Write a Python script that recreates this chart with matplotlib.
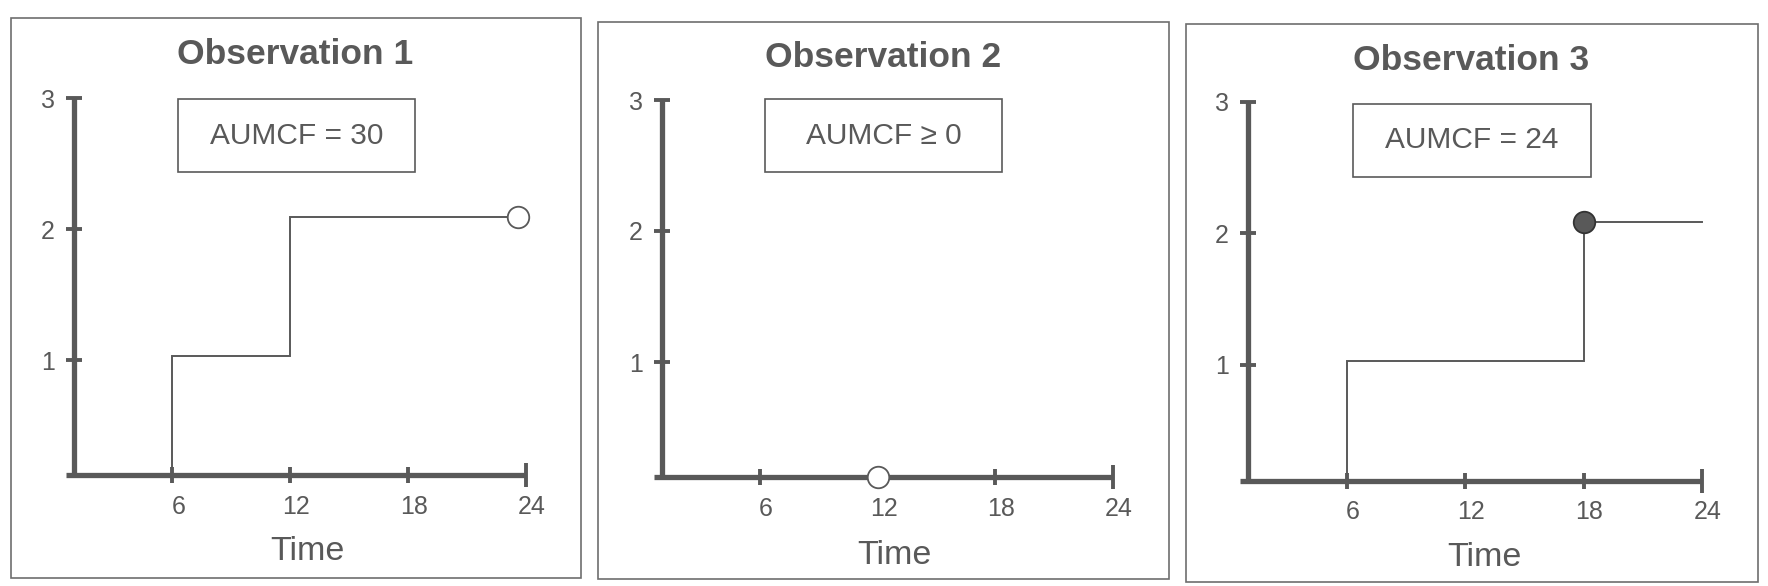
import matplotlib.pyplot as plt
from matplotlib.patches import Rectangle
from matplotlib.transforms import ScaledTranslation

plt.rcParams['font.family'] = ['Liberation Sans', 'DejaVu Sans']

GREY = '#595959'
W, H = 1768, 586

titles = ['Observation 1', 'Observation 2', 'Observation 3']
box_labels = ['AUMCF = 30', 'AUMCF \u2265 0', 'AUMCF = 24']
x_ticks = [6, 12, 18, 24]
y_ticks = [1, 2, 3]

# step paths of the cumulative count
step_x = [[6, 6, 12, 12, 23.6], [], [6, 6, 18, 18, 24]]
step_y = [[0.12, 1.03, 1.03, 2.09, 2.09], [], [0.12, 1.03, 1.03, 2.09, 2.09]]
# end-of-follow-up markers
mark_x = [23.6, 12, 18]
mark_y = [2.09, 0.12, 2.09]
mark_filled = [False, False, True]

# pixel layout of each panel (from top-left of the image)
x0s = [54.5, 642.4, 1228.4]       # pixel of time 0
sxs = [19.63, 19.6, 19.73]        # pixels per hour
y0s = [491, 493, 496.5]           # pixel of count 0
sys_ = [131, 131, 131.5]          # pixels per unit count
frames = [(11, 18, 581, 578), (598, 21.5, 1169, 579), (1185.7, 24, 1757.5, 582)]
boxes = [(177.8, 99.5, 415, 172), (764.7, 99.5, 1002, 172), (1352.5, 104.4, 1590.7, 176.6)]
title_pos = [(295, 55), (883, 57.5), (1471, 60)]
time_pos = [(307, 552), (894.5, 555), (1484.5, 558)]

XLIM = (-1, 26)
YLIM = (-0.6, 3.4)

fig = plt.figure(figsize=(W / 100, H / 100), dpi=100)
shift = ScaledTranslation(6 / 100, 0, fig.dpi_scale_trans)


def fx(px):
    return px / W


def fy(py):
    return 1 - py / H


for i in range(3):
    x0, sx, y0, sy = x0s[i], sxs[i], y0s[i], sys_[i]
    left = x0 + sx * XLIM[0]
    right = x0 + sx * XLIM[1]
    top = y0 - sy * YLIM[1]
    bottom = y0 - sy * YLIM[0]
    ax = fig.add_axes([fx(left), fy(bottom), fx(right - left), (bottom - top) / H])
    ax.set_xlim(*XLIM)
    ax.set_ylim(*YLIM)
    ax.patch.set_alpha(0)

    for s in ['top', 'right']:
        ax.spines[s].set_visible(False)
    ax.spines['left'].set_position(('data', 1))
    ax.spines['bottom'].set_position(('data', 0.12))
    ax.spines['left'].set_bounds(0.12, 3)
    ax.spines['bottom'].set_bounds(0.6, 24)
    for s in ['left', 'bottom']:
        ax.spines[s].set_linewidth(3.8)
        ax.spines[s].set_color(GREY)
        ax.spines[s].set_capstyle('butt')

    ax.set_xticks(x_ticks)
    ax.set_yticks(y_ticks)
    ax.tick_params(direction='inout', length=12, width=2.8, color=GREY,
                   labelcolor=GREY, labelsize=18)
    ax.tick_params(axis='x', pad=8)
    ax.tick_params(axis='y', pad=8)
    ax.xaxis.get_major_ticks()[-1].tick1line.set_markersize(17)
    for lab in ax.get_xticklabels():
        lab.set_transform(lab.get_transform() + shift)

    if step_x[i]:
        ax.plot(step_x[i], step_y[i], color=GREY, lw=1.4, solid_joinstyle='miter')
    ax.plot(mark_x[i], mark_y[i], 'o', ms=15.5,
            mfc=GREY if mark_filled[i] else 'white',
            mec='#333333' if mark_filled[i] else GREY, mew=1.3,
            zorder=5, clip_on=False)

    # panel frame
    l, t, r, b = frames[i]
    fig.patches.append(Rectangle((fx(l), fy(b)), fx(r - l), (b - t) / H,
                                 transform=fig.transFigure, fill=False,
                                 ec='#6e6e6e', lw=1.2))
    # AUMCF box
    l, t, r, b = boxes[i]
    fig.patches.append(Rectangle((fx(l), fy(b)), fx(r - l), (b - t) / H,
                                 transform=fig.transFigure, fill=False,
                                 ec='#5a5a5a', lw=1.2))
    fig.text(fx((l + r) / 2), fy((t + b) / 2), box_labels[i], ha='center',
             va='center', fontsize=21.5, color=GREY)

    fig.text(fx(title_pos[i][0]), fy(title_pos[i][1]), titles[i], ha='center',
             va='center', fontsize=25.5, fontweight='bold', color=GREY)
    fig.text(fx(time_pos[i][0]), fy(time_pos[i][1]), 'Time', ha='center',
             va='center', fontsize=24.5, color=GREY)

fig.savefig('out.png', dpi=100, facecolor='white')
